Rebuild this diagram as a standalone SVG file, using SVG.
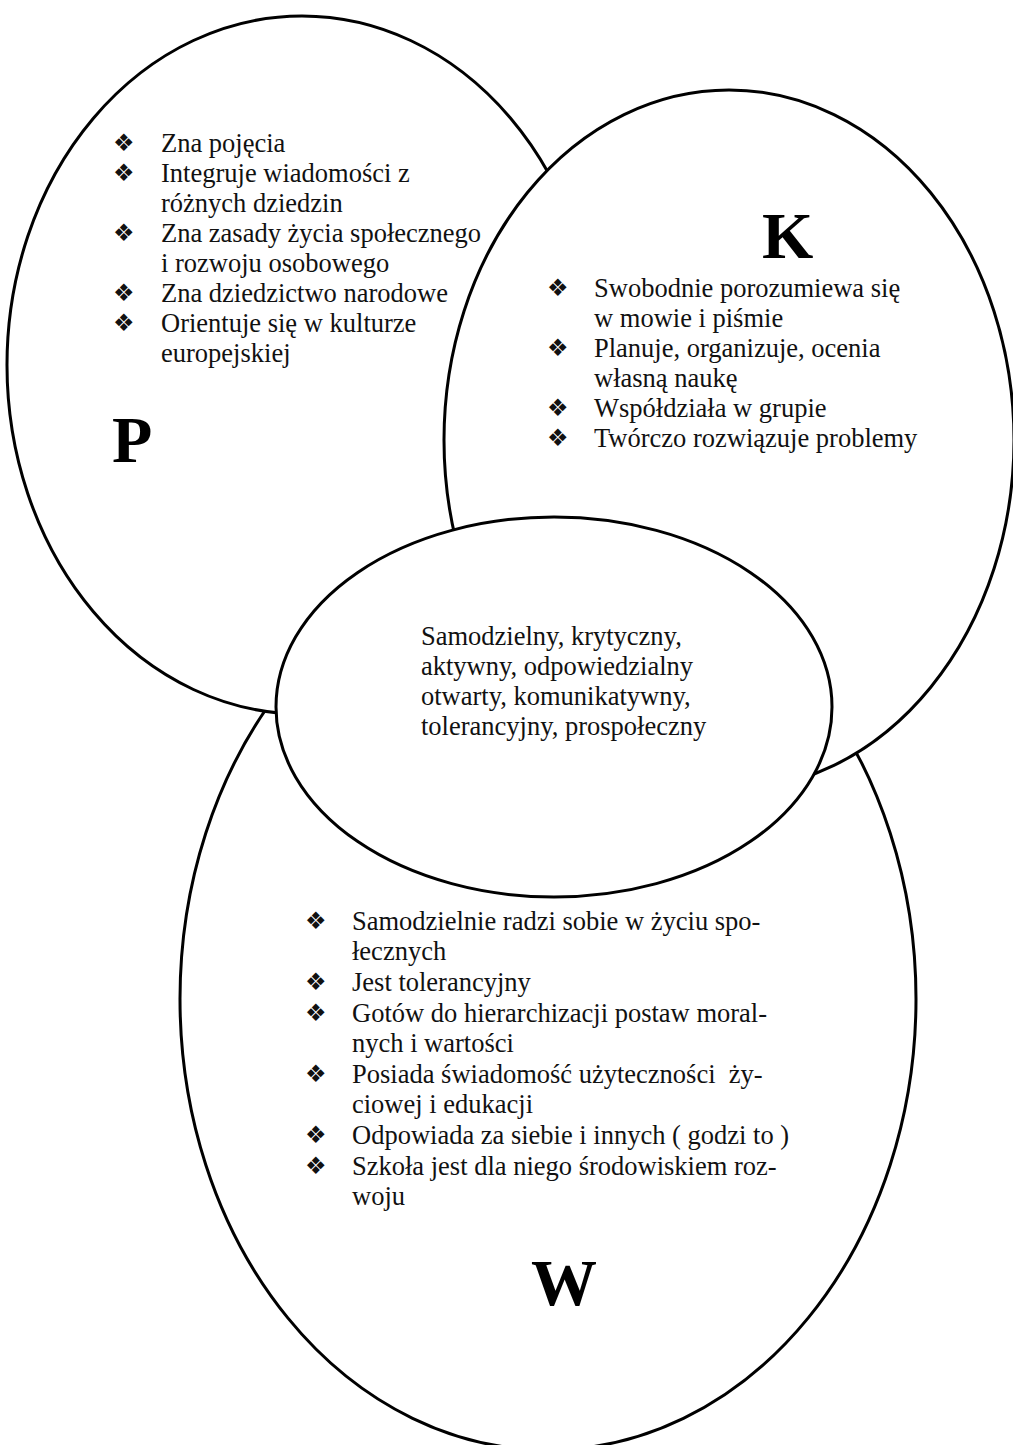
<svg xmlns="http://www.w3.org/2000/svg" width="1013" height="1445" viewBox="0 0 1013 1445">
<style>
.shape{fill:#fff;stroke:#000;stroke-width:3}
.t{font-family:"Liberation Serif","Times New Roman",serif;font-size:26.5px;fill:#111}
.b{font-family:"DejaVu Sans",sans-serif;font-size:24px;fill:#111}
.big{font-family:"Liberation Serif","Times New Roman",serif;font-size:66px;font-weight:bold;fill:#000}
.pre{white-space:pre}
</style>
<rect width="1013" height="1445" fill="#fff"/>
<g id="node-W">
<ellipse class="shape" cx="548" cy="999" rx="368" ry="451"/>
<g class="b">
<text x="305" y="929">❖</text>
<text x="305" y="990">❖</text>
<text x="305" y="1021">❖</text>
<text x="305" y="1082">❖</text>
<text x="305" y="1143">❖</text>
<text x="305" y="1174">❖</text>
</g>
<g class="t">
<text x="352" y="930">Samodzielnie radzi sobie w życiu spo-</text>
<text x="352" y="960">łecznych</text>
<text x="352" y="991">Jest tolerancyjny</text>
<text x="352" y="1022">Gotów do hierarchizacji postaw moral-</text>
<text x="352" y="1052">nych i wartości</text>
<text class="pre" x="352" y="1083" xml:space="preserve">Posiada świadomość użyteczności  ży-</text>
<text x="352" y="1113">ciowej i edukacji</text>
<text x="352" y="1144">Odpowiada za siebie i innych ( godzi to )</text>
<text x="352" y="1175">Szkoła jest dla niego środowiskiem roz-</text>
<text x="352" y="1205">woju</text>
</g>
<text class="big" x="531" y="1305">W</text>
</g>
<g id="node-P">
<ellipse class="shape" cx="302" cy="365" rx="295" ry="349"/>
<g class="b">
<text x="113" y="151">❖</text>
<text x="113" y="181">❖</text>
<text x="113" y="241">❖</text>
<text x="113" y="301">❖</text>
<text x="113" y="331">❖</text>
</g>
<g class="t">
<text x="161" y="152">Zna pojęcia</text>
<text x="161" y="182">Integruje wiadomości z</text>
<text x="161" y="212">różnych dziedzin</text>
<text x="161" y="242">Zna zasady życia społecznego</text>
<text x="161" y="272">i rozwoju osobowego</text>
<text x="161" y="302">Zna dziedzictwo narodowe</text>
<text x="161" y="332">Orientuje się w kulturze</text>
<text x="161" y="362">europejskiej</text>
</g>
<text class="big" x="112" y="462">P</text>
</g>
<g id="node-K">
<ellipse class="shape" cx="729" cy="440" rx="285" ry="350"/>
<text class="big" x="762" y="258">K</text>
<g class="b">
<text x="547" y="296">❖</text>
<text x="547" y="356">❖</text>
<text x="547" y="416">❖</text>
<text x="547" y="446">❖</text>
</g>
<g class="t">
<text x="594" y="297">Swobodnie porozumiewa się</text>
<text x="594" y="327">w mowie i piśmie</text>
<text x="594" y="357">Planuje, organizuje, ocenia</text>
<text x="594" y="387">własną naukę</text>
<text x="594" y="417">Współdziała w grupie</text>
<text x="594" y="447">Twórczo rozwiązuje problemy</text>
</g>
</g>
<g id="node-center">
<ellipse class="shape" cx="554" cy="707" rx="278" ry="190"/>
<g class="t">
<text x="421" y="645">Samodzielny, krytyczny,</text>
<text x="421" y="675">aktywny, odpowiedzialny</text>
<text x="421" y="705">otwarty, komunikatywny,</text>
<text x="421" y="735">tolerancyjny, prospołeczny</text>
</g>
</g>
</svg>
